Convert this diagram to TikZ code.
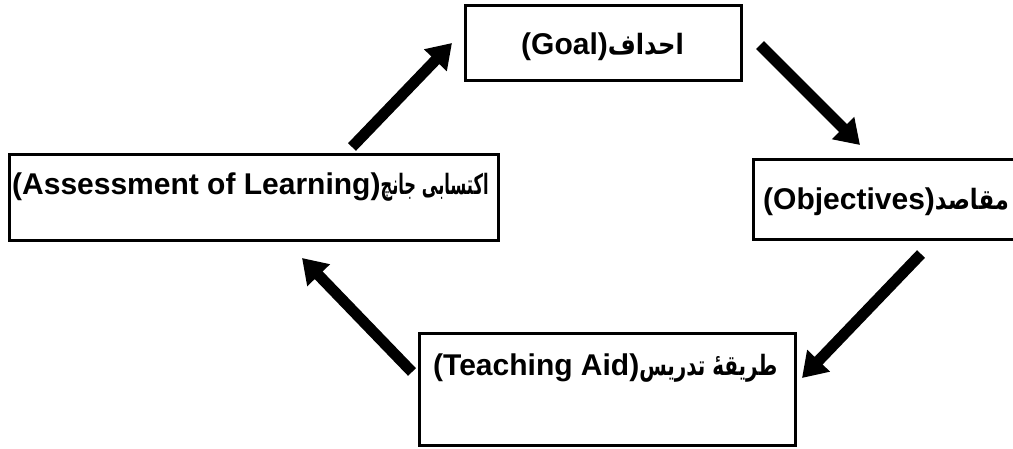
\documentclass[tikz,border=0pt]{standalone}
\usepackage{fontspec}
\setmainfont{Liberation Sans}
\TeXXeTstate=1
\newfontfamily\arabicfont[Script=Arabic]{DejaVu Sans}
\usetikzlibrary{arrows.meta}
\newcommand{\urdu}[2]{\resizebox{#1}{\height}{\arabicfont\fontsize{28}{30}\selectfont\bfseries #2}}
\tikzset{
  boxnode/.style={draw=black, line width=3pt, rectangle, inner sep=0pt, anchor=north west},
  lbl/.style={inner sep=0pt, anchor=base west, font=\fontsize{30}{32}\selectfont\bfseries},
  bigarrow/.style={line width=11pt, -{Triangle[width=30pt,length=24pt]}},
}
\begin{document}
\begin{tikzpicture}[x=1pt,y=-1pt]
\useasboundingbox (0,0) rectangle (1013,449);
\clip (0,0) rectangle (1013,449);
% boxes
\node[boxnode, minimum width=276pt, minimum height=75pt] (goal) at (464,4) {};
\node[boxnode, minimum width=290pt, minimum height=80pt] (obj) at (752,158) {};
\node[boxnode, minimum width=489pt, minimum height=86pt] (assess) at (8,153) {};
\node[boxnode, minimum width=376pt, minimum height=112pt] (teach) at (418,332) {};
% texts
\node[lbl] (goaltxt) at (521,55) {(Goal)\urdu{76pt}{\beginR احداف\endR}};
\node[lbl] (objtxt) at (763,210) {(Objectives)\urdu{74pt}{\beginR مقاصد\endR}};
\node[lbl] (assesstxt) at (12,195) {(Assessment of Learning)\urdu{108pt}{\beginR اکتسابی جانچ\endR}};
\node[lbl] (teachtxt) at (433,375) {(Teaching Aid)\urdu{138pt}{\beginR طریقهٔ تدریس\endR}};
% arrow end points
\coordinate (a1s) at (352,147);
\coordinate (a1e) at (452,43);
\coordinate (a2s) at (760,45);
\coordinate (a2e) at (860,145);
\coordinate (a3s) at (921,254);
\coordinate (a3e) at (802,378);
\coordinate (a4s) at (412,372);
\coordinate (a4e) at (302,258);
\draw[bigarrow] (a1s) -- (a1e);
\draw[bigarrow] (a2s) -- (a2e);
\draw[bigarrow] (a3s) -- (a3e);
\draw[bigarrow] (a4s) -- (a4e);
\end{tikzpicture}
\end{document}
